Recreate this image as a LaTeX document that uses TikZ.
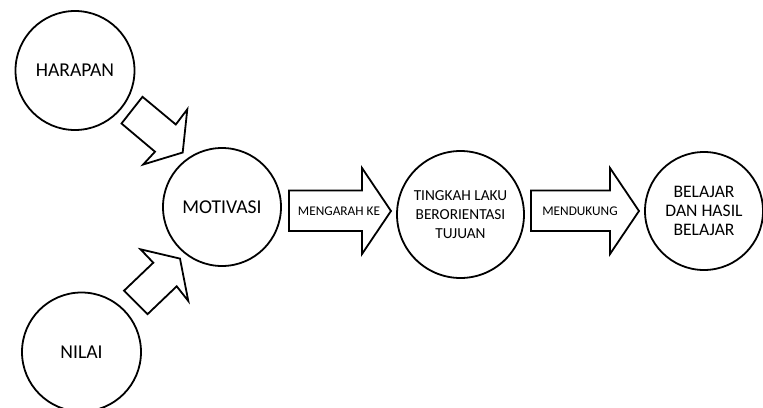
\documentclass[tikz,border=0pt]{standalone}
\usepackage{fontspec}
\setmainfont{Carlito}
\usetikzlibrary{calc}
\tikzset{
  bubble/.style={circle, draw, line width=1.8pt, inner sep=0pt, align=center, font=\fontsize{19.6}{19.5}\selectfont},
  fatarrow/.style={draw, line width=1.8pt, line join=miter, fill=white},
  armlabel/.style={inner sep=0pt, font=\fontsize{13.3}{15}\selectfont}
}
\begin{document}
\begin{tikzpicture}[x=1pt,y=-1pt]
  \useasboundingbox (0,0) rectangle (763,407);
  \clip (0,0) rectangle (763,407);
  % circles
  \node[bubble, minimum size=119pt] (harapan) at (75,70.5) {HARAPAN};
  \node[bubble, minimum size=119pt] (nilai) at (81.5,352) {NILAI};
  \node[bubble, minimum size=118pt] (motivasi) at (222,207) {MOTIVASI};
  \node[bubble, minimum size=127pt, font=\fontsize{15.3}{19}\selectfont] (tingkah) at (460.5,214.5) {TINGKAH LAKU\\BERORIENTASI\\TUJUAN};
  \node[bubble, minimum size=118pt, font=\fontsize{17.6}{19.4}\selectfont] (belajar) at (704,211) {BELAJAR\\DAN HASIL\\BELAJAR};
  % diagonal block arrows
  \draw[fatarrow] (121.5,123.5) -- (142.5,96.8) -- (175.8,124.5) -- (187.3,109.3)
    -- (182.7,152.5) -- (143.2,164.5) -- (155,151.7) -- cycle;
  \draw[fatarrow] (124,290.7) -- (147.5,314.2) -- (176.7,286.3) -- (188.3,301)
    -- (180,258.6) -- (140.5,249.3) -- (153.3,262.7) -- cycle;
  % horizontal block arrows
  \draw[fatarrow] (289,190.5) -- (362,190.5) -- (362,168) -- (391,211)
    -- (362,254) -- (362,231) -- (289,231) -- cycle;
  \draw[fatarrow] (531,190.5) -- (610,190.5) -- (610,168) -- (639,211)
    -- (610,254) -- (610,231) -- (531,231) -- cycle;
  \node[armlabel] (mengarah) at (339,211) {MENGARAH KE};
  \node[armlabel] (mendukung) at (580,211) {MENDUKUNG};
\end{tikzpicture}
\end{document}
